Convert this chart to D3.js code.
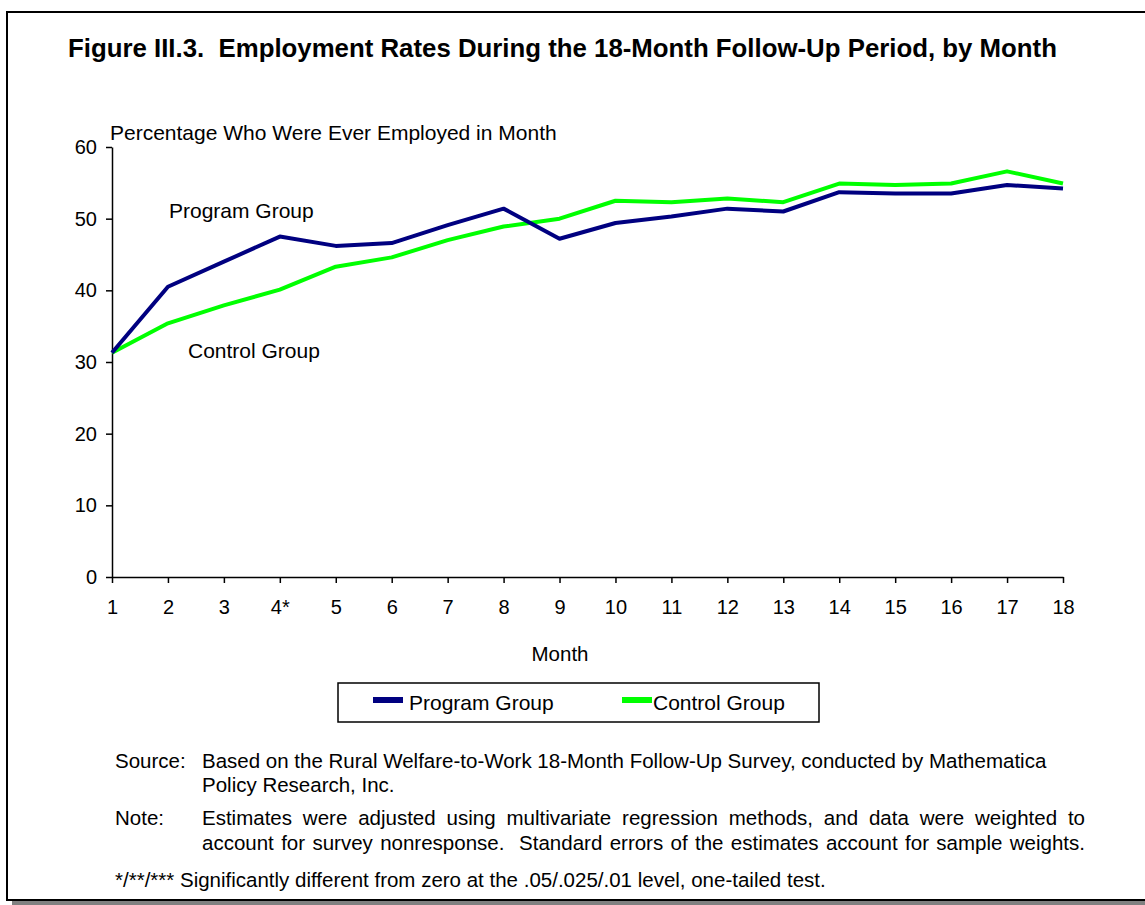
<!DOCTYPE html>
<html>
<head>
<meta charset="utf-8">
<script src="https://cdn.jsdelivr.net/npm/d3@7"></script>
<style>
  body { margin: 0; background: #fff; }
  svg { display: block; font-family: Arial, 'Liberation Sans', sans-serif; }
</style>
</head>
<body>
<svg id="chart" width="1145" height="905"></svg>
<script>
// data
const months = [1, 2, 3, 4, 5, 6, 7, 8, 9, 10, 11, 12, 13, 14, 15, 16, 17, 18];
const monthLabels = ['1', '2', '3', '4*', '5', '6', '7', '8', '9', '10', '11', '12', '13', '14', '15', '16', '17', '18'];
const programGroup = [31.3, 40.5, 44.0, 47.5, 46.2, 46.6, 49.1, 51.4, 47.2, 49.4, 50.3, 51.4, 51.0, 53.7, 53.5, 53.5, 54.7, 54.2];
const controlGroup = [31.3, 35.4, 37.9, 40.1, 43.3, 44.6, 47.0, 48.9, 50.0, 52.5, 52.3, 52.8, 52.3, 54.9, 54.7, 54.9, 56.6, 54.9];
const yTicks = [0, 10, 20, 30, 40, 50, 60];

const svg = d3.select('#chart');

// frame with grey shadow at the bottom
svg.append('rect').attr('x', 12).attr('y', 901).attr('width', 1133).attr('height', 4).attr('fill', '#808080');
svg.append('path')
  .attr('d', 'M1145,12 H7 V900 H1145')
  .attr('fill', 'none').attr('stroke', '#000').attr('stroke-width', 2);

svg.append('text')
  .attr('x', 68).attr('y', 57)
  .attr('xml:space', 'preserve')
  .style('font-size', '25.8px').style('font-weight', 'bold')
  .text('Figure III.3.  Employment Rates During the 18-Month Follow-Up Period, by Month');

const x = d3.scaleLinear().domain([1, 18]).range([112, 1063]);
const y = d3.scaleLinear().domain([0, 60]).range([577, 147]);

const yAxis = svg.append('g')
  .attr('transform', `translate(${x(1)},0)`)
  .call(d3.axisLeft(y).tickValues(yTicks).tickSize(6).tickPadding(9).tickSizeOuter(0));
const xAxis = svg.append('g')
  .attr('transform', `translate(0,${y(0)})`)
  .call(d3.axisBottom(x).tickValues(months).tickFormat((d, i) => monthLabels[i]).tickSize(6).tickPadding(17).tickSizeOuter(0));

[yAxis, xAxis].forEach(g => {
  g.select('.domain').attr('stroke', '#000').attr('stroke-width', 1.5);
  g.selectAll('.tick line').attr('stroke', '#000').attr('stroke-width', 1.5);
  g.selectAll('.tick text').attr('fill', '#000').style('font-size', '20px').style('font-family', 'Arial, "Liberation Sans", sans-serif');
});

svg.append('text')
  .attr('x', 110).attr('y', 140)
  .style('font-size', '21px')
  .text('Percentage Who Were Ever Employed in Month');

svg.append('text')
  .attr('x', 560).attr('y', 661)
  .attr('text-anchor', 'middle')
  .style('font-size', '20.5px')
  .text('Month');

const line = d3.line()
  .x((d, i) => x(months[i]))
  .y(d => y(d));

svg.append('path').datum(controlGroup)
  .attr('d', line).attr('fill', 'none')
  .attr('stroke', '#00ff00').attr('stroke-width', 4).attr('stroke-linejoin', 'round');
svg.append('path').datum(programGroup)
  .attr('d', line).attr('fill', 'none')
  .attr('stroke', '#000080').attr('stroke-width', 4).attr('stroke-linejoin', 'round');

// in-plot labels
svg.append('text').attr('x', 169).attr('y', 218).style('font-size', '21px').text('Program Group');
svg.append('text').attr('x', 188).attr('y', 358).style('font-size', '21px').text('Control Group');

// legend
const legend = svg.append('g');
legend.append('rect')
  .attr('x', 338).attr('y', 683).attr('width', 481).attr('height', 39)
  .attr('fill', '#fff').attr('stroke', '#000').attr('stroke-width', 1.5);
const legendItems = [
  { name: 'Program Group', color: '#000080', x: 373, tx: 409 },
  { name: 'Control Group', color: '#00ff00', x: 622, tx: 653 }
];
legendItems.forEach(d => {
  legend.append('rect').attr('x', d.x).attr('y', 697).attr('width', 30).attr('height', 6).attr('fill', d.color);
  legend.append('text').attr('x', d.tx).attr('y', 710).style('font-size', '21px').text(d.name);
});

// notes
const notes = svg.append('g').style('font-size', '20.5px');
notes.append('text').attr('x', 115).attr('y', 768).text('Source:');
notes.append('text').attr('x', 202).attr('y', 768)
  .text('Based on the Rural Welfare-to-Work 18-Month Follow-Up Survey, conducted by Mathematica');
notes.append('text').attr('x', 202).attr('y', 792).text('Policy Research, Inc.');
notes.append('text').attr('x', 115).attr('y', 825).text('Note:');
const noteLines = [
  'Estimates were adjusted using multivariate regression methods, and data were weighted to',
  'account for survey nonresponse.  Standard errors of the estimates account for sample weights.'
];
noteLines.forEach((t, i) => {
  const txt = notes.append('text').attr('x', 202).attr('y', 825 + i * 25)
    .attr('xml:space', 'preserve').text(t);
  // justify to the right margin like the source document
  const w = txt.node().getComputedTextLength();
  const gaps = (t.match(/ /g) || []).length;
  txt.style('word-spacing', ((1085 - 202 - w) / gaps) + 'px');
});
notes.append('text').attr('x', 115).attr('y', 887)
  .text('*/**/*** Significantly different from zero at the .05/.025/.01 level, one-tailed test.');
</script>
</body>
</html>
